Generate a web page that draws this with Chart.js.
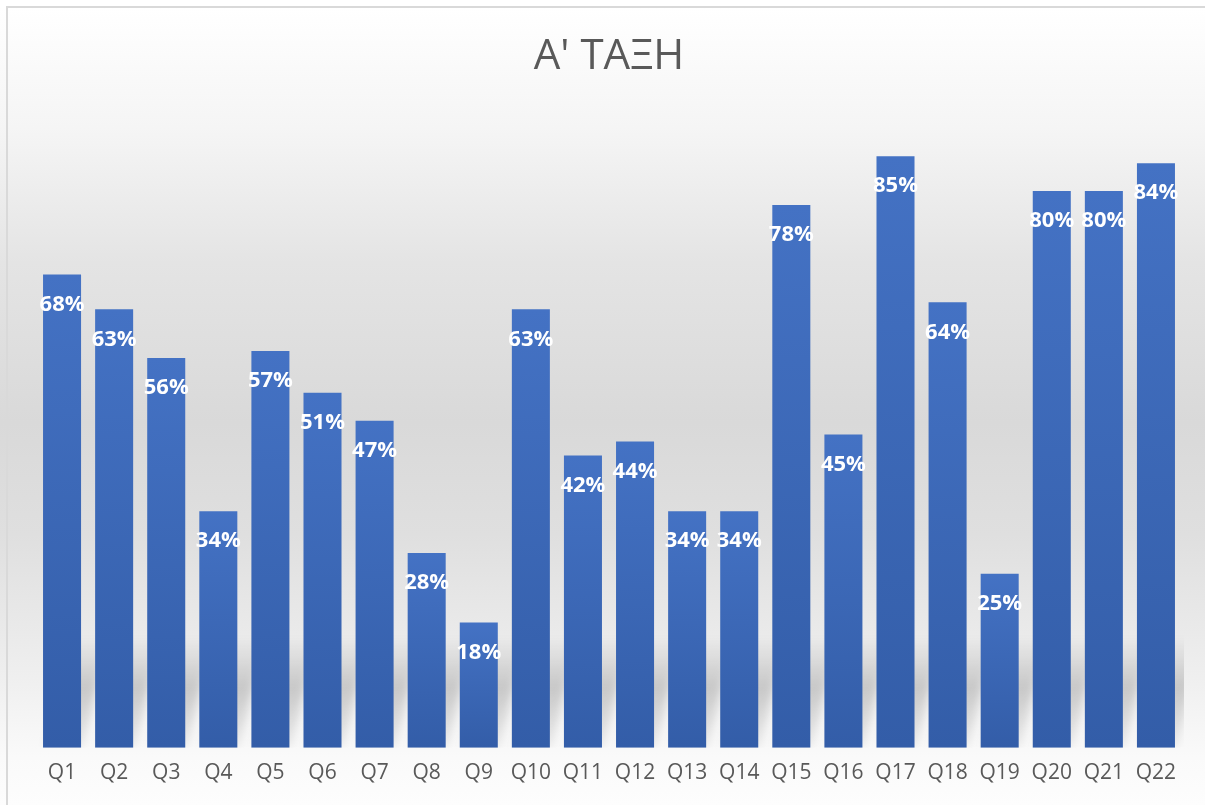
<!DOCTYPE html>
<html>
<head>
<meta charset="utf-8">
<script src="https://cdn.jsdelivr.net/npm/chart.js@4"></script>
<style>
    html, body { margin: 0; padding: 0; background: #ffffff; overflow: hidden; }
    #wrap { position: relative; width: 1205px; height: 805px; }
    #frame {
        position: absolute; left: 6px; top: 6px; width: 1300px; height: 900px;
        border: 2px solid #d9d9d9; pointer-events: none;
    }
</style>
</head>
<body>
<div id="wrap">
    <canvas id="class-chart" width="1205" height="805"></canvas>
    <div id="frame"></div>
</div>
<script>
const chartTitle = "Α' ΤΑΞΗ";
const questionLabels = ['Q1', 'Q2', 'Q3', 'Q4', 'Q5', 'Q6', 'Q7', 'Q8', 'Q9', 'Q10', 'Q11',
    'Q12', 'Q13', 'Q14', 'Q15', 'Q16', 'Q17', 'Q18', 'Q19', 'Q20', 'Q21', 'Q22'];
const correctPercent = [68, 63, 56, 34, 57, 51, 47, 28, 18, 63, 42, 44, 34, 34, 78, 45, 85, 64, 25, 80, 80, 84];
const axisMax = 90;

// grey backdrop, light at the top and bottom, darker in the middle
const backdrop = {
    id: 'backdrop',
    beforeDraw(chart) {
        const { ctx, width, height } = chart;
        const g = ctx.createLinearGradient(0, 8, 0, height);
        g.addColorStop(0, '#ffffff');
        g.addColorStop(0.15, '#f5f5f5');
        g.addColorStop(0.32, '#e4e4e4');
        g.addColorStop(0.52, '#d9d9d9');
        g.addColorStop(0.66, '#dfdfdf');
        g.addColorStop(0.84, '#efefef');
        g.addColorStop(0.94, '#fafafa');
        g.addColorStop(1, '#fdfdfd');
        ctx.save();
        ctx.fillStyle = g;
        ctx.fillRect(0, 0, width, height);
        ctx.restore();
    }
};

// soft slanted shadow at the foot of every bar
const barShadow = {
    id: 'barShadow',
    beforeDatasetsDraw(chart) {
        const { ctx, chartArea } = chart;
        const bars = chart.getDatasetMeta(0).data;
        ctx.save();
        ctx.beginPath();
        ctx.rect(chartArea.left - 10, chartArea.top, chartArea.width + 12, chartArea.height);
        ctx.clip();
        ctx.filter = 'blur(4px)';
        bars.forEach((bar) => {
            const half = bar.width / 2;
            const h = Math.min(110, bar.base - bar.y);
            const dx = 26;
            const g = ctx.createLinearGradient(0, bar.base, 0, bar.base - h);
            g.addColorStop(0, 'rgba(0,0,0,0.05)');
            g.addColorStop(0.55, 'rgba(0,0,0,0.17)');
            g.addColorStop(1, 'rgba(0,0,0,0)');
            ctx.fillStyle = g;
            ctx.beginPath();
            ctx.moveTo(bar.x - half + 2, bar.base);
            ctx.lineTo(bar.x + half + 2, bar.base);
            ctx.lineTo(bar.x + half + dx, bar.base - h);
            ctx.lineTo(bar.x - half + dx, bar.base - h);
            ctx.closePath();
            ctx.fill();
        });
        ctx.restore();
    }
};

// white percentage inside the top of each bar
const valueLabels = {
    id: 'valueLabels',
    afterDatasetsDraw(chart) {
        const { ctx } = chart;
        const bars = chart.getDatasetMeta(0).data;
        ctx.save();
        ctx.fillStyle = '#ffffff';
        ctx.font = 'bold 22px "Open Sans", "Noto Sans", sans-serif';
        ctx.textAlign = 'center';
        ctx.textBaseline = 'middle';
        bars.forEach((bar, i) => {
            ctx.fillText(correctPercent[i] + '%', bar.x, bar.y + 30);
        });
        ctx.restore();
    }
};

function barFill(context) {
    const chart = context.chart;
    if (!chart.chartArea || context.type !== 'data') return '#4472c4';
    const y = chart.scales.y;
    const top = y.getPixelForValue(context.raw);
    const base = y.getPixelForValue(0);
    const g = chart.ctx.createLinearGradient(0, top, 0, base);
    g.addColorStop(0, '#4472c4');
    g.addColorStop(1, '#335da8');
    return g;
}

const ctx = document.getElementById('class-chart').getContext('2d');
new Chart(ctx, {
    type: 'bar',
    data: {
        labels: questionLabels,
        datasets: [{
            label: chartTitle,
            data: correctPercent,
            backgroundColor: barFill,
            borderWidth: 0,
            categoryPercentage: 1,
            barPercentage: 0.73
        }]
    },
    options: {
        responsive: false,
        animation: false,
        layout: { padding: { left: 36, right: 23, top: 0, bottom: 6 } },
        scales: {
            x: {
                grid: { display: false, drawTicks: false },
                border: { display: false },
                ticks: {
                    color: '#595959',
                    padding: 13,
                    maxRotation: 0,
                    autoSkip: false,
                    font: { family: '"Open Sans", "Noto Sans", sans-serif', size: 21 }
                }
            },
            y: {
                display: false,
                min: 0,
                max: axisMax
            }
        },
        plugins: {
            legend: { display: false },
            tooltip: { enabled: false },
            title: {
                display: true,
                text: chartTitle,
                color: '#595959',
                padding: { top: 32, bottom: 39 },
                font: { family: '"Open Sans", "Noto Sans", sans-serif', size: 42, weight: 'normal' }
            }
        }
    },
    plugins: [backdrop, barShadow, valueLabels]
});
</script>
</body>
</html>
